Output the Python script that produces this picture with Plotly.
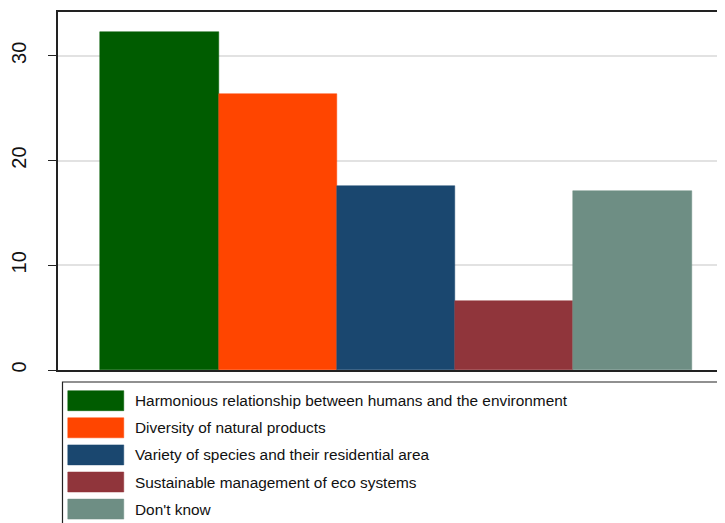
import plotly.graph_objects as go

categories = [
    "Harmonious relationship between humans and the environment",
    "Diversity of natural products",
    "Variety of species and their residential area",
    "Sustainable management of eco systems",
    "Don't know",
]
values = [32.3, 26.4, 17.6, 6.6, 17.1]
colors = ["#005c00", "#ff4500", "#1a476f", "#90353b", "#6e8e84"]
y_ticks = [0, 10, 20, 30]

# page has an 8px body margin; figure extends past the window on the right/bottom
OFF = 8
W, H = 725, 523
L, R, T, B = 57.5 - OFF, 0, 12 - OFF, H - (370 - OFF)
pw = W - L - R
ph = H - T - B

fig = go.Figure()
for i, (cat, val, col) in enumerate(zip(categories, values, colors)):
    fig.add_trace(go.Bar(
        x=[i], y=[val], width=1, name=cat,
        marker=dict(color=col, line=dict(color=col, width=0.5)),
        showlegend=False,
    ))

def px_x(p):
    return (p - OFF - L) / pw

def px_y(p):
    return (T + ph - (p - OFF)) / ph

shapes = []
annotations = []
shapes.append(dict(type="rect", xref="paper", yref="paper",
                   x0=px_x(62), x1=px_x(780), y0=px_y(382), y1=px_y(580),
                   line=dict(color="#222222", width=1.2), fillcolor="white", layer="above"))
row0, step = 400.7, 27.1
for i, (cat, col) in enumerate(zip(categories, colors)):
    cy = row0 + i * step
    shapes.append(dict(type="rect", xref="paper", yref="paper",
                       x0=px_x(67.3), x1=px_x(123.3), y0=px_y(cy - 10), y1=px_y(cy + 10),
                       line=dict(color=col, width=0.5), fillcolor=col, layer="above"))
    annotations.append(dict(xref="paper", yref="paper", x=px_x(132.7), y=px_y(cy),
                            xanchor="left", yanchor="middle", text=cat, showarrow=False,
                            font=dict(family="Liberation Sans, Arial", size=15.4, color="#111111")))

fig.update_layout(
    width=W, height=H,
    margin=dict(l=L, r=R, t=T, b=B, pad=0, autoexpand=False),
    paper_bgcolor="white", plot_bgcolor="white",
    bargap=0,
    shapes=shapes, annotations=annotations,
    font=dict(family="Liberation Sans, Arial", color="#111111"),
)
px_per_unit = 118.3
x_left = -0.5 - (100 - 57.5) / px_per_unit
x_right = x_left + pw / px_per_unit
fig.update_xaxes(range=[x_left, x_right], showticklabels=False, ticks="",
                 showgrid=False, zeroline=False, automargin=False,
                 showline=True, linecolor="#222222", linewidth=1.5, mirror=True)
fig.update_yaxes(range=[0, 34.19], tickvals=y_ticks, ticktext=[str(v) for v in y_ticks],
                 tickangle=-90, tickfont=dict(size=20, family="Liberation Sans, Arial", color="#111111"),
                 ticks="outside", ticklen=8, tickcolor="#222222", tickwidth=1.2,
                 ticklabelstandoff=14, automargin=False,
                 showgrid=True, gridcolor="#e2e2e2", gridwidth=1.5, zeroline=False,
                 showline=True, linecolor="#222222", linewidth=1.5, mirror=False)

fig.write_html("out.html")
